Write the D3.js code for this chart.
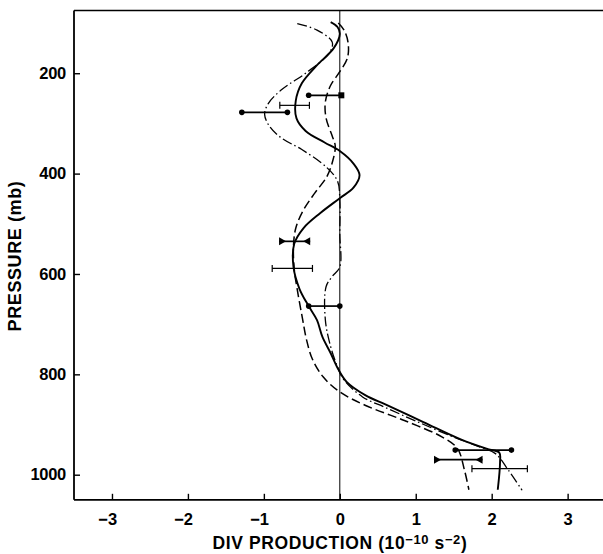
<!DOCTYPE html>
<html><head><meta charset="utf-8">
<script src="https://cdn.jsdelivr.net/npm/d3@7"></script>
<style>body{margin:0;background:#fff}svg{display:block}</style>
</head><body>
<script>
// ---- data ----
const xTicks = [-3, -2, -1, 0, 1, 2, 3];
const xTickLabels = ["\u22123", "\u22122", "\u22121", "0", "1", "2", "3"];
const yTicks = [200, 400, 600, 800, 1000];
const yTickLabels = ["200", "400", "600", "800", "1000"];

// [divergence production, pressure]
const solidCurve = [[-0.12,98],[-0.03,108],[0.0,122],[-0.08,150],[-0.3,184],[-0.5,220],[-0.58,255],[-0.57,290],[-0.45,315],[-0.2,338],[0.0,355],[0.18,380],[0.26,403],[0.18,428],[0.0,449],[-0.26,479],[-0.48,509],[-0.6,540],[-0.61,586],[-0.53,630],[-0.41,664],[-0.3,692],[-0.23,725],[-0.12,758],[-0.02,790],[0.09,815],[0.34,842],[0.6,860],[1.1,895],[1.6,930],[1.95,949],[2.1,956],[2.11,975],[2.08,1030]];
const dashedCurve = [[-0.02,100],[0.06,115],[0.11,140],[0.1,170],[0.0,197],[-0.12,224],[-0.19,257],[-0.18,290],[-0.1,325],[-0.06,345],[-0.09,373],[-0.17,406],[-0.33,439],[-0.48,473],[-0.58,509],[-0.61,545],[-0.6,590],[-0.55,640],[-0.49,690],[-0.44,730],[-0.36,770],[-0.22,805],[0.0,835],[0.34,862],[0.85,892],[1.35,925],[1.55,948],[1.64,990],[1.70,1030]];
const dashDotCurve = [[-0.56,101],[-0.3,114],[-0.1,138],[-0.14,160],[-0.45,200],[-0.76,232],[-0.94,260],[-0.99,282],[-0.92,307],[-0.76,330],[-0.5,352],[-0.17,388],[-0.03,415],[0.0,450],[0.0,520],[0.0,586],[-0.1,605],[-0.18,625],[-0.19,692],[-0.12,745],[-0.03,785],[0.05,810],[0.3,845],[0.6,866],[1.0,893],[1.5,925],[1.85,945],[2.05,958],[2.22,991],[2.4,1031]];

const errPressure = [244, 264, 278, 535, 589, 664, 951, 970, 988];
const errLow      = [-0.41, -0.79, -1.29, -0.80, -0.89, -0.41, 1.52, 1.24, 1.74];
const errHigh     = [0.02, -0.40, -0.69, -0.39, -0.36, 0.0, 2.26, 1.88, 2.47];
const errLeftMark = ["dot", "cap", "dot", "tri", "cap", "dot", "dot", "tri", "cap"];
const errRightMark= ["square", "cap", "dot", "tri", "cap", "dot", "dot", "tri", "cap"];

// ---- chart ----
const W = 603, H = 554;
const svg = d3.select("body").append("svg").attr("width", W).attr("height", H);
const x = d3.scaleLinear().domain([-3.5, 3.5]).range([74, 605.6]);
const y = d3.scaleLinear().domain([75, 1050]).range([10.5, 499.8]);
const FONT = "'Liberation Sans', Arial, Helvetica, sans-serif";

// frame
svg.append("line").attr("x1", x(-3.5)).attr("x2", W).attr("y1", y(75)).attr("y2", y(75)).attr("stroke", "#000").attr("stroke-width", 1.6);
svg.append("line").attr("x1", x(-3.5)).attr("x2", x(-3.5)).attr("y1", y(75)).attr("y2", y(1050)).attr("stroke", "#000").attr("stroke-width", 1.8);

// axes (ticks inward)
const xAxis = d3.axisBottom(x).tickValues(xTicks).tickSize(-6).tickPadding(13).tickFormat((d, i) => xTickLabels[i]);
const gx = svg.append("g").attr("transform", `translate(0,${y(1050)})`).call(xAxis);
gx.select(".domain").attr("d", `M${x(-3.5)},0H${W}`).attr("stroke-width", 1.8);
gx.selectAll(".tick line").attr("stroke-width", 1.4);
gx.selectAll("text").attr("font-family", FONT).attr("font-weight", "bold").attr("font-size", 16.5).attr("fill", "#000")
  .attr("text-anchor", "end").attr("x", 4.6);

const yAxis = d3.axisLeft(y).tickValues(yTicks).tickSize(-6).tickPadding(8).tickFormat((d, i) => yTickLabels[i]);
const gy = svg.append("g").attr("transform", `translate(${x(-3.5)},0)`).call(yAxis);
gy.select(".domain").remove();
gy.selectAll(".tick line").attr("stroke-width", 1.4);
gy.selectAll("text").attr("font-family", FONT).attr("font-weight", "bold").attr("font-size", 16.5).attr("fill", "#000").attr("letter-spacing", "-0.3");

// zero line
svg.append("line").attr("x1", x(0)).attr("x2", x(0)).attr("y1", y(75)).attr("y2", y(1050)).attr("stroke", "#000").attr("stroke-width", 1);

// curves
const line = d3.line().x(d => x(d[0])).y(d => y(d[1])).curve(d3.curveCatmullRom.alpha(0.5));
svg.append("path").attr("d", line(solidCurve)).attr("fill", "none").attr("stroke", "#000").attr("stroke-width", 1.9);
svg.append("path").attr("d", line(dashedCurve)).attr("fill", "none").attr("stroke", "#000").attr("stroke-width", 1.5).attr("stroke-dasharray", "9,4");
svg.append("path").attr("d", line(dashDotCurve)).attr("fill", "none").attr("stroke", "#000").attr("stroke-width", 1.3).attr("stroke-dasharray", "10,3,1.5,3");

// error bars
function marker(g, type, cx, cy, side) {
  if (type === "dot") g.append("circle").attr("cx", cx).attr("cy", cy).attr("r", 2.8).attr("fill", "#000");
  else if (type === "square") g.append("rect").attr("x", cx - 3).attr("y", cy - 3).attr("width", 6).attr("height", 6).attr("fill", "#000");
  else if (type === "cap") g.append("line").attr("x1", cx).attr("x2", cx).attr("y1", cy - 3.5).attr("y2", cy + 3.5).attr("stroke", "#000").attr("stroke-width", 1.2);
  else if (type === "tri") {
    const dir = side === "left" ? 1 : -1;
    g.append("path").attr("d", `M${cx},${cy - 4}L${cx + dir * 7},${cy}L${cx},${cy + 4}Z`).attr("fill", "#000");
  }
}
const eg = svg.append("g");
errPressure.forEach((p, i) => {
  const cy = y(p), x1 = x(errLow[i]), x2 = x(errHigh[i]);
  const thin = errLeftMark[i] === "cap";
  eg.append("line").attr("x1", x1).attr("x2", x2).attr("y1", cy).attr("y2", cy).attr("stroke", "#000").attr("stroke-width", thin ? 1.2 : 1.7);
  marker(eg, errLeftMark[i], x1, cy, "left");
  marker(eg, errRightMark[i], x2, cy, "right");
});

// axis titles
const xt = svg.append("text").attr("x", 340).attr("y", 549).attr("text-anchor", "middle")
  .attr("font-family", FONT).attr("font-weight", "bold").attr("font-size", 17.5).attr("letter-spacing", "0.6").attr("fill", "#000");
xt.append("tspan").text("DIV PRODUCTION (10");
xt.append("tspan").attr("font-size", 13).attr("dy", -5).text("\u221210");
xt.append("tspan").attr("dy", 5).text(" s");
xt.append("tspan").attr("font-size", 13).attr("dy", -5).text("\u22122");
xt.append("tspan").attr("dy", 5).text(")");

svg.append("text").attr("transform", "translate(21,256) rotate(-90)").attr("text-anchor", "middle")
  .attr("font-family", FONT).attr("font-weight", "bold").attr("font-size", 18).attr("letter-spacing", "0.6").attr("fill", "#000")
  .text("PRESSURE (mb)");
</script>
</body></html>
